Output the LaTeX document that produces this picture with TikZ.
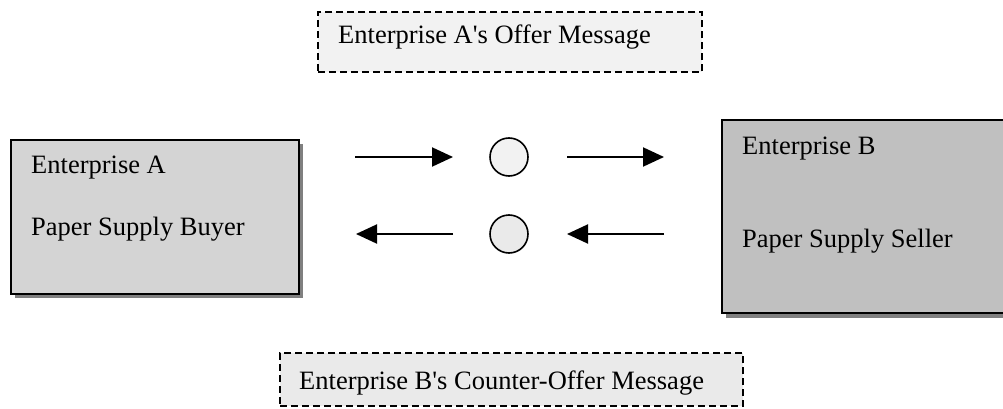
\documentclass[tikz,border=0pt]{standalone}
\usepackage{fontspec}
\setmainfont{Liberation Serif}
\usetikzlibrary{arrows.meta}

\definecolor{buyerfill}{RGB}{212,212,212}
\definecolor{sellerfill}{RGB}{192,192,192}
\definecolor{shadowgray}{RGB}{128,128,128}
\definecolor{offerfill}{RGB}{242,242,242}
\definecolor{counterfill}{RGB}{234,234,234}

\tikzset{
  party/.style={draw=black, line width=2pt, rectangle, inner sep=0pt, anchor=north west},
  partyshadow/.style={fill=shadowgray, draw=none, rectangle, inner sep=0pt, anchor=north west},
  msgbox/.style={draw=black, line width=2.2pt, dash pattern=on 7pt off 4pt, rectangle, inner sep=0pt, anchor=north west},
  token/.style={circle, draw=black, line width=1.6pt, minimum size=38pt, inner sep=0pt},
  txt/.style={anchor=base west, inner sep=0pt, font=\fontsize{26.5pt}{30pt}\selectfont},
  flow/.style={line width=2pt, -{Triangle[length=21pt, width=19pt]}}
}

\begin{document}
\begin{tikzpicture}[x=1pt, y=-1pt]
  \useasboundingbox (0,0) rectangle (1003,409);
  \clip (0,0) rectangle (1003,409);

  % Enterprise A
  \node[partyshadow, minimum width=288pt, minimum height=154pt] (ashadow) at (15,144) {};
  \node[party, fill=buyerfill, minimum width=288pt, minimum height=154pt] (boxa) at (10,139) {};
  \node[txt] (aname) at (31,173) {Enterprise A};
  \node[txt] (arole) at (31,235) {Paper Supply Buyer};

  % Enterprise B (runs past the right edge)
  \node[partyshadow, minimum width=300pt, minimum height=193pt] (bshadow) at (726,125) {};
  \node[party, fill=sellerfill, minimum width=300pt, minimum height=193pt] (boxb) at (721,119) {};
  \node[txt] (bname) at (742,154) {Enterprise B};
  \node[txt] (brole) at (742,247) {Paper Supply Seller};

  % Message boxes
  \node[msgbox, fill=offerfill, minimum width=384pt, minimum height=60pt] (offer) at (317,11) {};
  \node[txt] (offertext) at (338,44) {Enterprise A\textquotesingle s Offer Message};
  \node[msgbox, fill=counterfill, minimum width=463pt, minimum height=53pt] (counter) at (279,352) {};
  \node[txt] (countertext) at (299,389) {Enterprise B\textquotesingle s Counter-Offer Message};

  % Message tokens
  \node[token, fill=offerfill] (tok1) at (509,157) {};
  \node[token, fill=counterfill] (tok2) at (509,234) {};

  % Flow arrows
  \coordinate (o1s) at (355,157);
  \coordinate (o1e) at (453,157);
  \coordinate (o2s) at (567,157);
  \coordinate (o2e) at (664,157);
  \coordinate (c1s) at (664,234);
  \coordinate (c1e) at (567,234);
  \coordinate (c2s) at (453,234);
  \coordinate (c2e) at (356,234);
  \draw[flow] (o1s) -- (o1e);
  \draw[flow] (o2s) -- (o2e);
  \draw[flow] (c1s) -- (c1e);
  \draw[flow] (c2s) -- (c2e);
\end{tikzpicture}
\end{document}
